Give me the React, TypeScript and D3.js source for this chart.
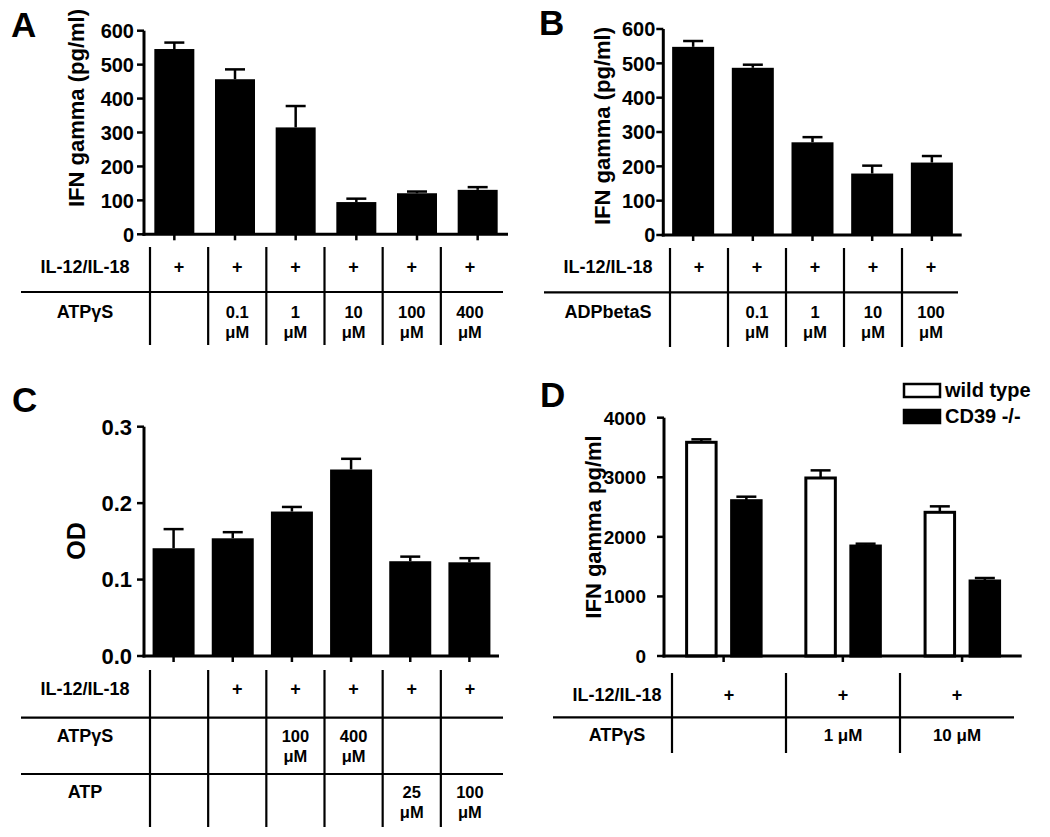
import React from "react";
import * as d3 from "d3";

const AX_FONT = "'Liberation Sans', Arial, Helvetica, sans-serif";
const TB_FONT = "'Liberation Sans', Arial, Helvetica, sans-serif";

// ---------- Panel A ----------
const aCategories = ["ctrl", "0.1", "1", "10", "100", "400"];
const aMeans = [546, 457, 315, 95, 121, 131];
const aErrors = [19, 29, 63, 10, 5, 8];
const aTicks = [0, 100, 200, 300, 400, 500, 600];
const aIL = ["+", "+", "+", "+", "+", "+"];
const aATPgS = ["", "0.1 μM", "1 μM", "10 μM", "100 μM", "400 μM"];

// ---------- Panel B ----------
const bCategories = ["ctrl", "0.1", "1", "10", "100"];
const bMeans = [548, 487, 270, 179, 211];
const bErrors = [17, 9, 15, 23, 19];
const bTicks = [0, 100, 200, 300, 400, 500, 600];
const bIL = ["+", "+", "+", "+", "+"];
const bADP = ["", "0.1 μM", "1 μM", "10 μM", "100 μM"];

// ---------- Panel C ----------
const cCategories = ["none", "IL", "ATPgS100", "ATPgS400", "ATP25", "ATP100"];
const cMeans = [0.141, 0.154, 0.189, 0.244, 0.124, 0.1226];
const cErrors = [0.025, 0.008, 0.006, 0.014, 0.006, 0.0054];
const cTicks = [0, 0.1, 0.2, 0.3];
const cIL = ["", "+", "+", "+", "+", "+"];
const cATPgS = ["", "", "100 μM", "400 μM", "", ""];
const cATP = ["", "", "", "", "25 μM", "100 μM"];

// ---------- Panel D ----------
const dGroups = ["none", "1 μM", "10 μM"];
const dSeries = ["wild type", "CD39 -/-"];
const dWildType = [3587, 2988, 2412];
const dWildTypeErr = [50, 128, 100];
const dCD39 = [2607, 1846, 1259];
const dCD39Err = [67, 39, 50];
const dTicks = [0, 1000, 2000, 3000, 4000];
const dIL = ["+", "+", "+"];
const dATPgS = ["", "1 μM", "10 μM"];

type Row = { label: string; values: string[]; y: number };
type TableCfg = {
  range: [number, number];
  labelX: number;
  hx: [number, number];
  vTop: number;
  vBottom: number;
  hLines: number[];
  rows: Row[];
  twoLine: boolean;
  cats: string[];
};

function Table({ t }: { t: TableCfg }) {
  const band = d3.scaleBand<string>().domain(t.cats).range(t.range);
  return (
    <g>
      {t.cats.map((c) => (
        <line
          key={"v" + c}
          x1={band(c)!}
          x2={band(c)!}
          y1={t.vTop}
          y2={t.vBottom}
          stroke="#000"
          strokeWidth={2.2}
        />
      ))}
      {t.hLines.map((y, i) => (
        <line key={"h" + i} x1={t.hx[0]} x2={t.hx[1]} y1={y} y2={y} stroke="#000" strokeWidth={2.2} />
      ))}
      {t.rows.map((r, ri) => (
        <g key={"r" + ri}>
          <text
            x={t.labelX}
            y={r.y}
            textAnchor="middle"
            fontFamily={TB_FONT}
            fontWeight="bold"
            fontSize={18}
          >
            {r.label}
          </text>
          {r.values.map((v, i) => {
            const cx = band(t.cats[i])! + band.bandwidth() / 2;
            if (!v) return null;
            if (v === "+")
              return (
                <text key={i} x={cx} y={r.y} textAnchor="middle" fontFamily={TB_FONT} fontWeight="bold" fontSize={18}>
                  +
                </text>
              );
            if (t.twoLine) {
              const parts = v.split(" ");
              return (
                <text key={i} textAnchor="middle" fontFamily={TB_FONT} fontWeight="bold" fontSize={16.5}>
                  <tspan x={cx} y={r.y}>
                    {parts[0]}
                  </tspan>
                  <tspan x={cx} y={r.y + 20}>
                    {parts[1]}
                  </tspan>
                </text>
              );
            }
            return (
              <text key={i} x={cx} y={r.y} textAnchor="middle" fontFamily={TB_FONT} fontWeight="bold" fontSize={17}>
                {v}
              </text>
            );
          })}
        </g>
      ))}
    </g>
  );
}

type AxisCfg = {
  xRange: [number, number];
  yRange: [number, number];
  yMax: number;
  ticks: number[];
  fmt: (d: number) => string;
  tickFs: number;
  labelOffset: number;
};

function YAxis({ a, y }: { a: AxisCfg; y: d3.ScaleLinear<number, number> }) {
  const x0 = a.xRange[0];
  return (
    <g>
      <line x1={x0} x2={x0} y1={y(0) + 1.5} y2={y(a.yMax)} stroke="#000" strokeWidth={3} />
      {a.ticks.map((t) => (
        <g key={t}>
          <line x1={x0 - 7} x2={x0} y1={y(t)} y2={y(t)} stroke="#000" strokeWidth={2.5} />
          <text
            x={x0 - a.labelOffset}
            y={y(t)}
            dy="0.36em"
            textAnchor="end"
            fontFamily={AX_FONT}
            fontWeight="bold"
            fontSize={a.tickFs}
          >
            {a.fmt(t)}
          </text>
        </g>
      ))}
      <line x1={x0 - 1.5} x2={a.xRange[1]} y1={y(0)} y2={y(0)} stroke="#000" strokeWidth={3} />
    </g>
  );
}

type SimpleCfg = {
  letter: string;
  letterPos: [number, number];
  axis: AxisCfg;
  cats: string[];
  means: number[];
  errors: number[];
  barW: number;
  title: string;
  titlePos: [number, number];
  titleFs: number;
  table: TableCfg;
};

function SimplePanel({ c }: { c: SimpleCfg }) {
  const x = d3.scalePoint<string>().domain(c.cats).range(c.axis.xRange).padding(0.5);
  const y = d3.scaleLinear().domain([0, c.axis.yMax]).range(c.axis.yRange);
  const capW = 20;
  return (
    <g>
      <text x={c.letterPos[0]} y={c.letterPos[1]} fontFamily={TB_FONT} fontWeight="bold" fontSize={35}>
        {c.letter}
      </text>
      {c.cats.map((cat, i) => {
        const cx = x(cat)!;
        const top = y(c.means[i]);
        const eTop = y(c.means[i] + c.errors[i]);
        return (
          <g key={cat}>
            <line x1={cx} x2={cx} y1={top} y2={eTop} stroke="#000" strokeWidth={2.5} />
            <line x1={cx - capW / 2} x2={cx + capW / 2} y1={eTop} y2={eTop} stroke="#000" strokeWidth={2.5} />
            <rect x={cx - c.barW / 2} y={top} width={c.barW} height={y(0) - top} fill="#000" />
            <line x1={cx} x2={cx} y1={y(0)} y2={y(0) + 6} stroke="#000" strokeWidth={2.5} />
          </g>
        );
      })}
      <YAxis a={c.axis} y={y} />
      <text
        transform={`translate(${c.titlePos[0]},${c.titlePos[1]}) rotate(-90)`}
        textAnchor="middle"
        fontFamily={AX_FONT}
        fontWeight="bold"
        fontSize={c.titleFs}
      >
        {c.title}
      </text>
      <Table t={c.table} />
    </g>
  );
}

function PanelD() {
  const axis: AxisCfg = {
    xRange: [664, 1021.7],
    yRange: [656, 417.7],
    yMax: 4000,
    ticks: dTicks,
    fmt: (d) => String(d),
    tickFs: 19,
    labelOffset: 18,
  };
  const x = d3.scalePoint<string>().domain(dGroups).range(axis.xRange).padding(0.5);
  const sub = d3.scaleBand<string>().domain(dSeries).range([-38.5, 39]).paddingInner(0.278);
  const y = d3.scaleLinear().domain([0, axis.yMax]).range(axis.yRange);
  const series = [
    { key: dSeries[0], vals: dWildType, errs: dWildTypeErr, fill: "#fff" },
    { key: dSeries[1], vals: dCD39, errs: dCD39Err, fill: "#000" },
  ];
  const capW = 20;
  const table: TableCfg = {
    cats: dGroups,
    range: [672, 1014],
    labelX: 617,
    hx: [553, 1014],
    vTop: 673,
    vBottom: 753,
    hLines: [717.3],
    rows: [
      { label: "IL-12/IL-18", values: dIL, y: 701 },
      { label: "ATPγS", values: dATPgS, y: 741 },
    ],
    twoLine: false,
  };
  return (
    <g>
      <text x={540} y={407} fontFamily={TB_FONT} fontWeight="bold" fontSize={35}>
        D
      </text>
      {dGroups.map((g, gi) => (
        <g key={g}>
          {series.map((s) => {
            const bx = x(g)! + sub(s.key)!;
            const cx = bx + sub.bandwidth() / 2;
            const top = y(s.vals[gi]);
            const eTop = y(s.vals[gi] + s.errs[gi]);
            return (
              <g key={s.key}>
                <line x1={cx} x2={cx} y1={top} y2={eTop} stroke="#000" strokeWidth={2.5} />
                <line x1={cx - capW / 2} x2={cx + capW / 2} y1={eTop} y2={eTop} stroke="#000" strokeWidth={2.5} />
                <rect
                  x={bx + 1.5}
                  y={top}
                  width={sub.bandwidth() - 3}
                  height={y(0) - top}
                  fill={s.fill}
                  stroke="#000"
                  strokeWidth={3}
                />
              </g>
            );
          })}
          <line x1={x(g)!} x2={x(g)!} y1={y(0)} y2={y(0) + 6} stroke="#000" strokeWidth={2.5} />
        </g>
      ))}
      <YAxis a={axis} y={y} />
      <text
        transform={`translate(601,527) rotate(-90)`}
        textAnchor="middle"
        fontFamily={AX_FONT}
        fontWeight="bold"
        fontSize={22}
      >
        IFN gamma pg/ml
      </text>
      {series.map((s, i) => (
        <g key={"lg" + s.key}>
          <rect x={904} y={384 + i * 26} width={36} height={13} fill={s.fill} stroke="#000" strokeWidth={2.5} />
          <text x={945} y={397 + i * 26} fontFamily={TB_FONT} fontWeight="bold" fontSize={20}>
            {s.key}
          </text>
        </g>
      ))}
      <Table t={table} />
    </g>
  );
}

const panelA: SimpleCfg = {
  letter: "A",
  letterPos: [11, 37],
  axis: { xRange: [144, 508], yRange: [234.3, 30.7], yMax: 600, ticks: aTicks, fmt: (d) => String(d), tickFs: 20, labelOffset: 10 },
  cats: aCategories,
  means: aMeans,
  errors: aErrors,
  barW: 40,
  title: "IFN gamma (pg/ml)",
  titlePos: [84, 108],
  titleFs: 22,
  table: {
    cats: aCategories,
    range: [150, 499],
    labelX: 85,
    hx: [21, 503],
    vTop: 247,
    vBottom: 345,
    hLines: [292],
    rows: [
      { label: "IL-12/IL-18", values: aIL, y: 273 },
      { label: "ATPγS", values: aATPgS, y: 318 },
    ],
    twoLine: true,
  },
};

const panelB: SimpleCfg = {
  letter: "B",
  letterPos: [539, 35],
  axis: { xRange: [663.3, 961.7], yRange: [235, 29], yMax: 600, ticks: bTicks, fmt: (d) => String(d), tickFs: 20, labelOffset: 8 },
  cats: bCategories,
  means: bMeans,
  errors: bErrors,
  barW: 42,
  title: "IFN gamma (pg/ml)",
  titlePos: [610, 126],
  titleFs: 22,
  table: {
    cats: bCategories,
    range: [670, 960],
    labelX: 608,
    hx: [544, 958],
    vTop: 248,
    vBottom: 347,
    hLines: [292.3],
    rows: [
      { label: "IL-12/IL-18", values: bIL, y: 273 },
      { label: "ADPbetaS", values: bADP, y: 318 },
    ],
    twoLine: true,
  },
};

const panelC: SimpleCfg = {
  letter: "C",
  letterPos: [12, 412],
  axis: {
    xRange: [144, 499],
    yRange: [656, 426.7],
    yMax: 0.3,
    ticks: cTicks,
    fmt: (d) => d3.format(".1f")(d),
    tickFs: 22,
    labelOffset: 12,
  },
  cats: cCategories,
  means: cMeans,
  errors: cErrors,
  barW: 42,
  title: "OD",
  titlePos: [85, 541],
  titleFs: 25,
  table: {
    cats: cCategories,
    range: [150, 499],
    labelX: 85,
    hx: [21, 503],
    vTop: 670,
    vBottom: 827,
    hLines: [717.7, 774],
    rows: [
      { label: "IL-12/IL-18", values: cIL, y: 695 },
      { label: "ATPγS", values: cATPgS, y: 742 },
      { label: "ATP", values: cATP, y: 798 },
    ],
    twoLine: true,
  },
};

export default function App() {
  return (
    <svg
      width={1050}
      height={837}
      viewBox="0 0 1050 837"
      style={{ position: "absolute", left: 0, top: 0, background: "#fff" }}
    >
      <rect width={1050} height={837} fill="#fff" />
      <SimplePanel c={panelA} />
      <SimplePanel c={panelB} />
      <SimplePanel c={panelC} />
      <PanelD />
    </svg>
  );
}
